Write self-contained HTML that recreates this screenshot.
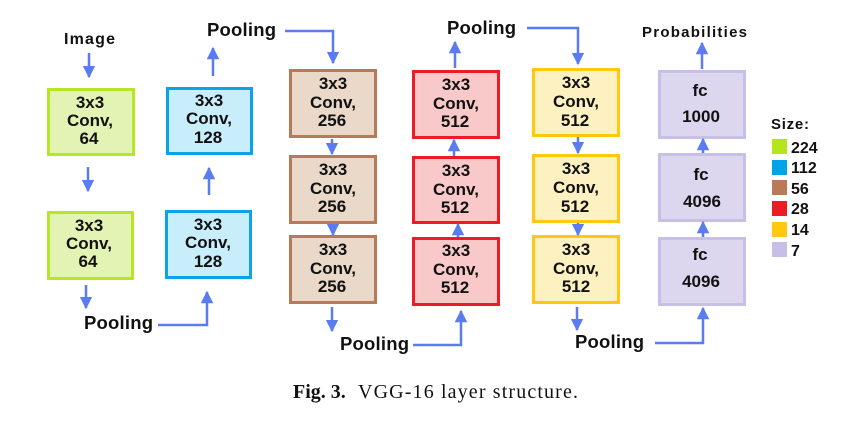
<!DOCTYPE html>
<html><head><meta charset="utf-8"><style>
html,body{margin:0;padding:0;background:#fff;width:860px;height:440px;overflow:hidden}
svg text{font-family:"Liberation Sans",Arial,sans-serif;font-weight:bold;fill:#111}
</style></head><body>
<svg width="860" height="440" viewBox="0 0 860 440" xmlns="http://www.w3.org/2000/svg">
<defs>
<marker id="a" viewBox="0 0 10 10" refX="9" refY="5" markerWidth="5" markerHeight="5" orient="auto"><path d="M0,0 L10,5 L0,10 z" fill="#5b7cf0"/></marker>
</defs>
<g stroke-width="3">
<rect x="48.5" y="89.5" width="85" height="65" fill="#e3f3b3" stroke="#b7e625"/>
<rect x="48.5" y="212.5" width="84" height="66" fill="#e3f3b3" stroke="#b7e625"/>
<rect x="167.5" y="88.5" width="84" height="65" fill="#c8edfb" stroke="#0ba3e6"/>
<rect x="166.5" y="211.5" width="84" height="66" fill="#c8edfb" stroke="#0ba3e6"/>
<rect x="290.5" y="70.5" width="85" height="66" fill="#ead8c9" stroke="#b67a59"/>
<rect x="290.5" y="156.5" width="85" height="66" fill="#ead8c9" stroke="#b67a59"/>
<rect x="290.5" y="236.5" width="85" height="66" fill="#ead8c9" stroke="#b67a59"/>
<rect x="413.5" y="71.5" width="85" height="66" fill="#f9c9ca" stroke="#ec1c27"/>
<rect x="413.5" y="157.5" width="85" height="65" fill="#f9c9ca" stroke="#ec1c27"/>
<rect x="413.5" y="238.5" width="85" height="66" fill="#f9c9ca" stroke="#ec1c27"/>
<rect x="533.5" y="69.5" width="85" height="66" fill="#fdf1c2" stroke="#fec810"/>
<rect x="533.5" y="155.5" width="85" height="66" fill="#fdf1c2" stroke="#fec810"/>
<rect x="533.5" y="236.5" width="85" height="66" fill="#fdf1c2" stroke="#fec810"/>
<rect x="659.5" y="71.5" width="85" height="66" fill="#dcd7ef" stroke="#c8bfe6"/>
<rect x="659.5" y="154.5" width="85" height="66" fill="#dcd7ef" stroke="#c8bfe6"/>
<rect x="659.5" y="238.5" width="85" height="66" fill="#dcd7ef" stroke="#c8bfe6"/>
</g>
<g stroke="#5b7cf0" stroke-width="2.5" fill="none" marker-end="url(#a)">
<line x1="89" y1="53" x2="89" y2="77"/>
<line x1="88" y1="167" x2="88" y2="191"/>
<line x1="86" y1="285" x2="86" y2="308"/>
<polyline points="158,325 207,325 207,292"/>
<line x1="209" y1="195" x2="209" y2="168"/>
<line x1="213" y1="76" x2="213" y2="48"/>
<polyline points="285,31 333,31 333,63"/>
<line x1="332" y1="139" x2="332" y2="154"/>
<line x1="333" y1="224" x2="333" y2="235"/>
<line x1="332" y1="307" x2="332" y2="331"/>
<polyline points="413,345 461,345 461,311"/>
<line x1="458" y1="237" x2="458" y2="224"/>
<line x1="454" y1="156" x2="454" y2="140"/>
<line x1="455" y1="68" x2="455" y2="42"/>
<polyline points="527,28 578,28 578,64"/>
<line x1="578" y1="137" x2="578" y2="153"/>
<line x1="578" y1="223" x2="578" y2="235"/>
<line x1="577" y1="307" x2="577" y2="330"/>
<polyline points="655,343 703,343 703,308"/>
<line x1="703" y1="237" x2="703" y2="222"/>
<line x1="703" y1="153" x2="703" y2="139"/>
<line x1="702" y1="69" x2="702" y2="43"/>
</g>
<g font-size="17" text-anchor="middle">
<text x="90" y="108">3x3</text><text x="90" y="126">Conv,</text><text x="89" y="144">64</text>
<text x="89" y="231">3x3</text><text x="89" y="249">Conv,</text><text x="88" y="267">64</text>
<text x="209" y="106">3x3</text><text x="209" y="124">Conv,</text><text x="208" y="143">128</text>
<text x="208" y="230">3x3</text><text x="208" y="248">Conv,</text><text x="208" y="267">128</text>
<text x="333" y="89">3x3</text><text x="333" y="108">Conv,</text><text x="332" y="126">256</text>
<text x="333" y="175">3x3</text><text x="333" y="194">Conv,</text><text x="332" y="212">256</text>
<text x="333" y="255">3x3</text><text x="333" y="274">Conv,</text><text x="332" y="292">256</text>
<text x="456" y="90">3x3</text><text x="456" y="109">Conv,</text><text x="455" y="127">512</text>
<text x="456" y="176">3x3</text><text x="456" y="195">Conv,</text><text x="455" y="213">512</text>
<text x="456" y="256">3x3</text><text x="456" y="275">Conv,</text><text x="455" y="293">512</text>
<text x="576" y="88">3x3</text><text x="576" y="107">Conv,</text><text x="575" y="126">512</text>
<text x="576" y="174">3x3</text><text x="576" y="193">Conv,</text><text x="575" y="212">512</text>
<text x="576" y="255">3x3</text><text x="576" y="274">Conv,</text><text x="576" y="292">512</text>
<text x="700" y="96" font-weight="normal">fc</text><text x="701" y="122">1000</text>
<text x="701" y="180" font-weight="normal">fc</text><text x="702" y="207">4096</text>
<text x="700" y="260" font-weight="normal">fc</text><text x="701" y="287">4096</text>
</g>
<g font-size="18.5">
<text x="207" y="36" textLength="69">Pooling</text>
<text x="447" y="34" textLength="69">Pooling</text>
<text x="84" y="329" textLength="69">Pooling</text>
<text x="340" y="350" textLength="69">Pooling</text>
<text x="575" y="348" textLength="69">Pooling</text>
</g>
<text x="64" y="44" font-size="16" textLength="51">Image</text>
<text x="642" y="37" font-size="15" textLength="105">Probabilities</text>
<text x="771" y="129" font-size="15" textLength="38">Size:</text>
<g>
<rect x="772" y="139" width="15" height="15" fill="#b5e61d"/>
<rect x="772" y="160" width="15" height="15" fill="#00a2e8"/>
<rect x="772" y="180" width="15" height="15" fill="#b97a57"/>
<rect x="772" y="201" width="15" height="15" fill="#ed1c24"/>
<rect x="772" y="222" width="15" height="15" fill="#ffc90e"/>
<rect x="772" y="242" width="15" height="15" fill="#c8bfe7"/>
</g>
<g font-size="16">
<text x="791" y="153">224</text>
<text x="791" y="173">112</text>
<text x="791" y="194">56</text>
<text x="791" y="214">28</text>
<text x="791" y="235">14</text>
<text x="791" y="256">7</text>
</g>
<text x="293" y="398" style="font-family:'Liberation Serif',serif;font-size:20px;font-weight:bold">Fig. 3.</text>
<text x="358" y="398" textLength="220" style="font-family:'Liberation Serif',serif;font-size:20px;font-weight:normal">VGG-16 layer structure.</text>
</svg>
</body></html>
